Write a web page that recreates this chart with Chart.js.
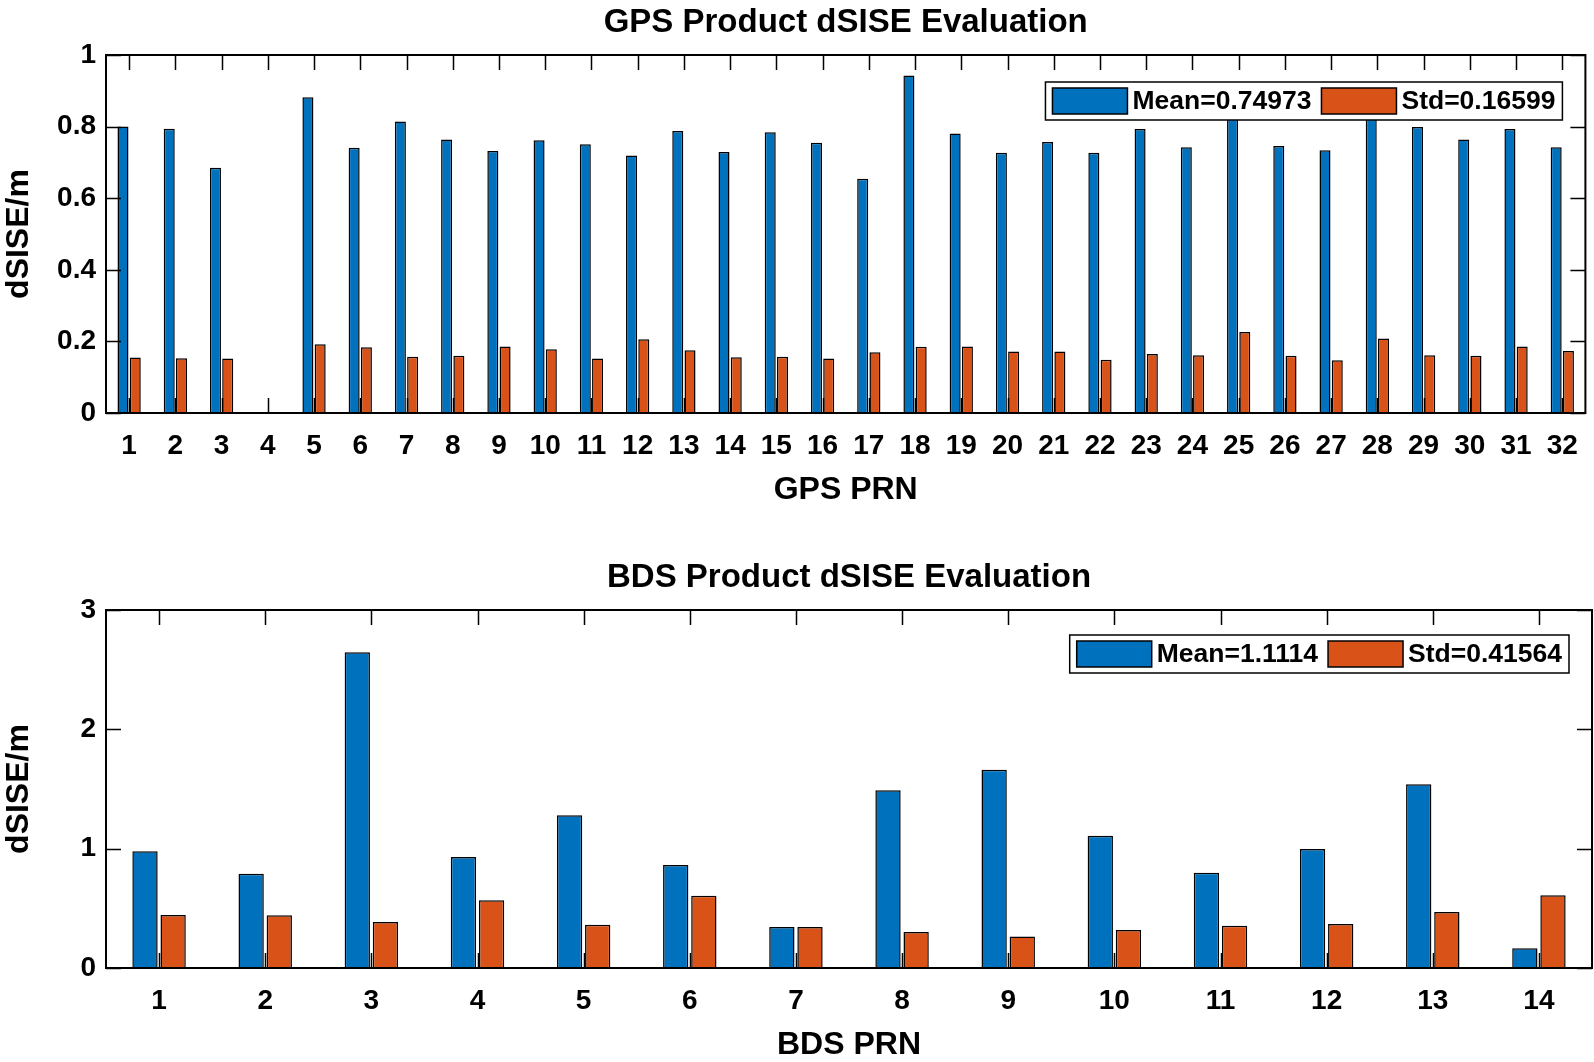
<!DOCTYPE html>
<html>
<head>
<meta charset="utf-8">
<title>dSISE Evaluation</title>
<script src="https://cdn.jsdelivr.net/npm/chart.js@4.4.0/dist/chart.umd.min.js"></script>
<style>
    html, body { margin: 0; padding: 0; background: #fff; }
    body { width: 1594px; height: 1062px; position: relative; overflow: hidden; }
    .panel { position: absolute; left: 0; width: 1594px; height: 510px; }
    #gpsPanel { top: 0; }
    #bdsPanel { top: 555px; }
</style>
</head>
<body>
<div class="panel" id="gpsPanel"><canvas id="gpsChart"></canvas></div>
<div class="panel" id="bdsPanel"><canvas id="bdsChart"></canvas></div>

<script>
// ============================================
// Data
// ============================================
const gpsPrn = ["1","2","3","4","5","6","7","8","9","10","11","12","13","14","15","16",
                "17","18","19","20","21","22","23","24","25","26","27","28","29","30","31","32"];
const gpsMean = [0.800, 0.794, 0.685, 0, 0.882, 0.741, 0.814, 0.764, 0.732, 0.762, 0.751, 0.719,
                 0.788, 0.729, 0.784, 0.755, 0.654, 0.943, 0.781, 0.727, 0.757, 0.727, 0.793, 0.742,
                 0.900, 0.746, 0.734, 0.890, 0.799, 0.764, 0.793, 0.742];
const gpsStd = [0.155, 0.153, 0.152, 0, 0.192, 0.184, 0.157, 0.160, 0.186, 0.178, 0.152, 0.206,
                0.175, 0.156, 0.157, 0.152, 0.170, 0.185, 0.186, 0.172, 0.172, 0.149, 0.165, 0.161,
                0.226, 0.160, 0.147, 0.208, 0.161, 0.160, 0.186, 0.173];
const gpsLabels = ["Mean=0.74973", "Std=0.16599"];

const bdsPrn = ["1","2","3","4","5","6","7","8","9","10","11","12","13","14"];
const bdsMean = [0.978, 0.790, 2.645, 0.930, 1.279, 0.863, 0.344, 1.489, 1.662, 1.109, 0.799, 0.997, 1.539, 0.165];
const bdsStd = [0.444, 0.441, 0.385, 0.567, 0.363, 0.606, 0.344, 0.302, 0.265, 0.318, 0.355, 0.369, 0.469, 0.609];
const bdsLabels = ["Mean=1.1114", "Std=0.41564"];

const BLUE = "#0072BD";
const ORANGE = "#D95319";
const FONT = '"Liberation Sans", Arial, Helvetica, sans-serif';

Chart.defaults.font.family = FONT;
Chart.defaults.font.weight = "bold";
Chart.defaults.color = "#000";

// MATLAB-style box with inward ticks on all four sides
const matlabAxes = {
    id: "matlabAxes",
    afterDatasetsDraw(chart) {
        const { ctx, chartArea: a, scales: { x, y } } = chart;
        const len = 15;
        ctx.save();
        ctx.strokeStyle = "#000";
        ctx.lineWidth = 1.5;
        ctx.beginPath();
        x.ticks.forEach((t, i) => {
            const px = Math.round(x.getPixelForTick(i)) + 0.5;
            ctx.moveTo(px, a.top); ctx.lineTo(px, a.top + len);
            ctx.moveTo(px, a.bottom); ctx.lineTo(px, a.bottom - len);
        });
        y.ticks.forEach((t) => {
            const py = Math.round(y.getPixelForValue(t.value)) + 0.5;
            ctx.moveTo(a.left, py); ctx.lineTo(a.left + len, py);
            ctx.moveTo(a.right, py); ctx.lineTo(a.right - len, py);
        });
        ctx.stroke();
        ctx.lineWidth = 2;
        ctx.strokeRect(a.left, a.top, a.right - a.left, a.bottom - a.top);
        ctx.restore();
    }
};

// boxed horizontal legend in the top right corner
const boxLegend = {
    id: "boxLegend",
    afterDraw(chart, args, opts) {
        const { ctx, chartArea: a } = chart;
        const items = chart.data.datasets.map((ds) => ({ text: ds.label, color: ds.backgroundColor }));
        const swW = 75, swH = 26, gapText = 5, gapItem = 10, padX = 7, boxH = 38;

        ctx.save();
        ctx.font = "bold 26.5px " + FONT;
        let w = padX * 2 - gapItem;
        items.forEach((it) => {
            it.w = ctx.measureText(it.text).width;
            w += swW + gapText + it.w + gapItem;
        });
        const right = a.right - opts.right;
        const top = a.top + opts.top;
        const left = right - w;

        ctx.fillStyle = "#fff";
        ctx.fillRect(left, top, w, boxH);
        ctx.strokeStyle = "#000";
        ctx.lineWidth = 1.5;
        ctx.strokeRect(left, top, w, boxH);

        let x = left + padX;
        items.forEach((it) => {
            const sy = top + (boxH - swH) / 2;
            ctx.fillStyle = it.color;
            ctx.fillRect(x, sy, swW, swH);
            ctx.strokeRect(x, sy, swW, swH);
            x += swW + gapText;
            ctx.fillStyle = "#000";
            ctx.textBaseline = "middle";
            ctx.fillText(it.text, x, top + boxH / 2 + 1);
            x += it.w + gapItem;
        });
        ctx.restore();
    }
};

function makeChart(canvasId, title, xTitle, labels, mean, std, legendLabels, yMax, yStep, legendTop) {
    const ctx = document.getElementById(canvasId).getContext("2d");
    return new Chart(ctx, {
        type: "bar",
        data: {
            labels,
            datasets: [
                { label: legendLabels[0], data: mean, backgroundColor: BLUE },
                { label: legendLabels[1], data: std, backgroundColor: ORANGE }
            ]
        },
        options: {
            responsive: true,
            maintainAspectRatio: false,
            animation: false,
            devicePixelRatio: 1,
            layout: { padding: { left: 0, right: 2, top: 0, bottom: 0 } },
            datasets: {
                bar: {
                    borderColor: "#000",
                    borderWidth: 1.5,
                    categoryPercentage: 0.53,
                    barPercentage: 0.9
                }
            },
            plugins: {
                legend: { display: false },
                tooltip: { enabled: false },
                boxLegend: { right: 23, top: legendTop }
            },
            scales: {
                // top axis only carries the title, so it is centred over the plot box like MATLAB
                top: {
                    type: "category",
                    position: "top",
                    grid: { display: false, drawTicks: false },
                    border: { display: false },
                    ticks: { display: false },
                    title: { display: true, text: title, font: { size: 33, weight: "bold" }, padding: { top: 3, bottom: 0 } },
                    afterFit: (scale) => { scale.height = 55; }
                },
                x: {
                    grid: { display: false, drawTicks: false },
                    border: { display: false },
                    ticks: { font: { size: 28, weight: "bold" }, padding: 16, maxRotation: 0, autoSkip: false },
                    title: { display: true, text: xTitle, font: { size: 32, weight: "bold" }, padding: { top: 0, bottom: 1 } },
                    afterFit: (scale) => { scale.height = 97; }
                },
                y: {
                    min: 0,
                    max: yMax,
                    grid: { display: false, drawTicks: false },
                    border: { display: false },
                    ticks: {
                        stepSize: yStep,
                        font: { size: 28, weight: "bold" },
                        padding: 10,
                        callback: (v) => String(Math.round(v * 10) / 10)
                    },
                    title: { display: true, text: "dSISE/m", font: { size: 32, weight: "bold" }, padding: 0 },
                    afterFit: (scale) => { scale.width = 106; }
                }
            }
        },
        plugins: [matlabAxes, boxLegend]
    });
}

makeChart("gpsChart", "GPS Product dSISE Evaluation", "GPS PRN", gpsPrn, gpsMean, gpsStd, gpsLabels, 1, 0.2, 27);
makeChart("bdsChart", "BDS Product dSISE Evaluation", "BDS PRN", bdsPrn, bdsMean, bdsStd, bdsLabels, 3, 1, 25);
</script>
</body>
</html>
